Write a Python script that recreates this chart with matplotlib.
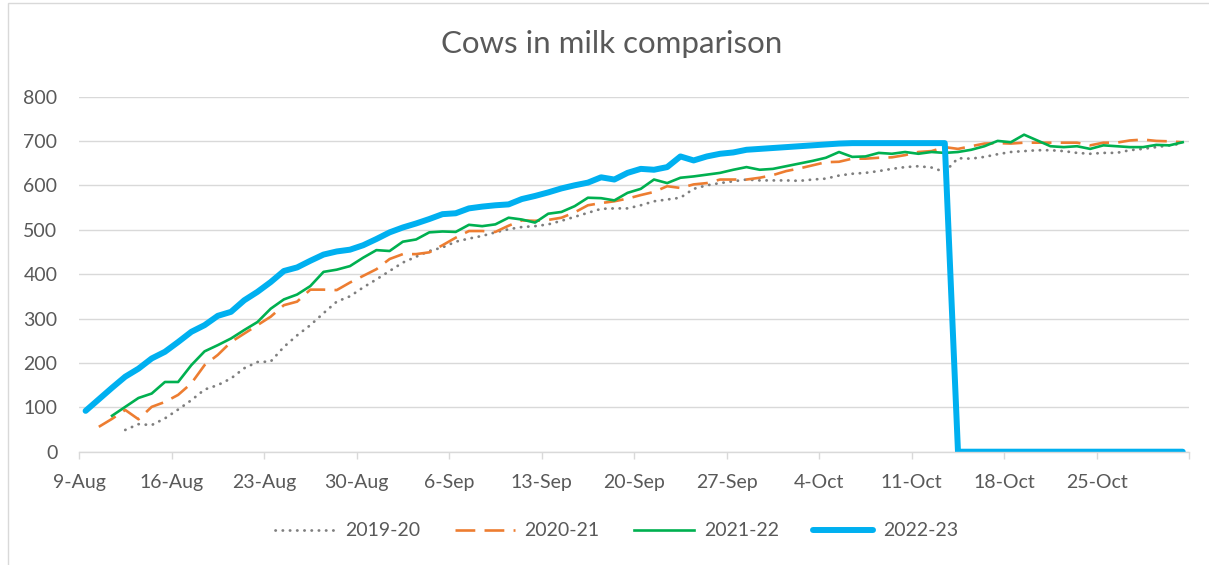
import datetime
import matplotlib
matplotlib.use("Agg")
import matplotlib.pyplot as plt
import numpy as np
from matplotlib.patches import Rectangle

nan = np.nan

# daily counts of cows in milk, starting 9-Aug
start_date = datetime.date(2022, 8, 9)

cows_2019 = [nan, nan, nan, 49, 62, 60, 75, 95, 116, 140,
             150, 165, 188, 202, 203, 236, 262, 285, 312, 338,
             350, 370, 388, 407, 426, 439, 452, 460, 473, 480,
             486, 494, 501, 506, 508, 512, 520, 529, 538, 547,
             548, 548, 555, 564, 568, 572, 592, 600, 605, 609,
             613, 611, 611, 611, 610, 613, 615, 622, 626, 628,
             632, 637, 641, 643, 640, 630, 661, 660, 664, 670,
             675, 677, 679, 679, 677, 673, 671, 673, 673, 679,
             682, 686, 690, 694]

cows_2020 = [nan, 56, 74, 94, 73, 101, 112, 128, 154, 195,
             218, 247, 266, 285, 304, 330, 338, 365, 365, 364,
             381, 396, 411, 434, 445, 445, 449, 465, 482, 497,
             497, 495, 509, 521, 520, 522, 527, 539, 555, 560,
             564, 570, 578, 585, 598, 594, 602, 605, 613, 613,
             613, 617, 623, 632, 638, 645, 652, 653, 660, 660,
             662, 663, 668, 675, 677, 686, 682, 688, 694, 695,
             694, 696, 696, 696, 696, 696, 690, 696, 696, 701,
             703, 700, 699, 697]

cows_2021 = [nan, nan, 81, 101, 121, 131, 157, 157, 195, 226,
             240, 255, 274, 292, 322, 343, 354, 373, 405, 410,
             418, 437, 454, 452, 473, 478, 494, 496, 495, 511,
             508, 512, 527, 523, 516, 536, 540, 553, 572, 571,
             566, 583, 592, 613, 605, 617, 620, 624, 628, 635,
             641, 635, 637, 643, 649, 655, 662, 675, 664, 665,
             673, 671, 675, 671, 675, 673, 675, 680, 688, 700,
             697, 714, 701, 688, 686, 688, 682, 690, 688, 686,
             686, 691, 690, 697]

cows_2022 = [92, 118, 144, 169, 187, 210, 225, 247, 270, 285,
             306, 315, 341, 360, 382, 407, 415, 430, 444, 451,
             455, 465, 479, 494, 505, 514, 524, 535, 537, 548,
             552, 555, 557, 569, 576, 584, 593, 600, 606, 618,
             613, 628, 637, 635, 641, 665, 656, 665, 671, 674,
             680, 682, 684, 686, 688, 690, 692, 694, 695, 695,
             695, 695, 695, 695, 695, 695, 0, 0, 0, 0,
             0, 0, 0, 0, 0, 0, 0, 0, 0, 0,
             0, 0, 0, 0]

n_days = len(cows_2022)
days = np.arange(n_days) + 0.5   # points sit between the tick marks
tick_days = np.arange(0, 85, 7)
tick_labels = []
for d in tick_days:
    dt = start_date + datetime.timedelta(days=int(d))
    tick_labels.append(f"{dt.day}-{dt:%b}" if d < 84 else "")

text_col = "#595959"
grid_col = "#D9D9D9"

plt.rcParams['font.family'] = ['Lato', 'DejaVu Sans']

fig = plt.figure(figsize=(12.09, 5.65), dpi=100)
ax = fig.add_axes([79 / 1209, 1 - 451.7 / 565, (1189.3 - 79) / 1209, (451.7 - 96.5) / 565])

ax.plot(days, cows_2019, color="#7F7F7F", lw=2.0, linestyle=(0, (0.1, 2.5)),
        dash_capstyle="round", label="2019-20")
ax.plot(days, cows_2020, color="#ED7D31", lw=1.9, linestyle=(0, (7.5, 3.5)),
        label="2020-21")
ax.plot(days, cows_2021, color="#00B050", lw=1.9, label="2021-22")
ax.plot(days, cows_2022, color="#00B0F0", lw=4.3, solid_capstyle="round",
        solid_joinstyle="round", label="2022-23")

ax.set_xlim(0, 84)
ax.set_ylim(0, 800)
ax.set_yticks(range(0, 801, 100))
ax.set_xticks(tick_days)
ax.set_xticklabels(tick_labels)
ax.grid(axis="y", color=grid_col, lw=1)
ax.set_axisbelow(True)
for s in ["top", "right", "left"]:
    ax.spines[s].set_visible(False)
ax.spines["bottom"].set_color(grid_col)
ax.spines["bottom"].set_linewidth(1)
ax.tick_params(axis="y", length=0, pad=15.5, labelsize=14, labelcolor=text_col)
ax.tick_params(axis="x", length=5, width=1, color=grid_col, pad=11,
               labelsize=14, labelcolor=text_col)

fig.text(0.5057, 1 - 43.5 / 565, "Cows in milk comparison", ha="center", va="center",
         fontsize=22.5, color=text_col)

fig.legend(loc="center", bbox_to_anchor=(0.51, 1 - 531 / 565), ncol=4,
           frameon=False, fontsize=14, handlelength=3.1, columnspacing=1.75,
           handletextpad=0.5, labelcolor=text_col)

fig.patches.append(Rectangle((8 / 1209, -0.05), 1.1, 1.05 - 3 / 565,
                             transform=fig.transFigure, fill=False,
                             edgecolor=grid_col, lw=1))

fig.savefig("out.png", dpi=100)
